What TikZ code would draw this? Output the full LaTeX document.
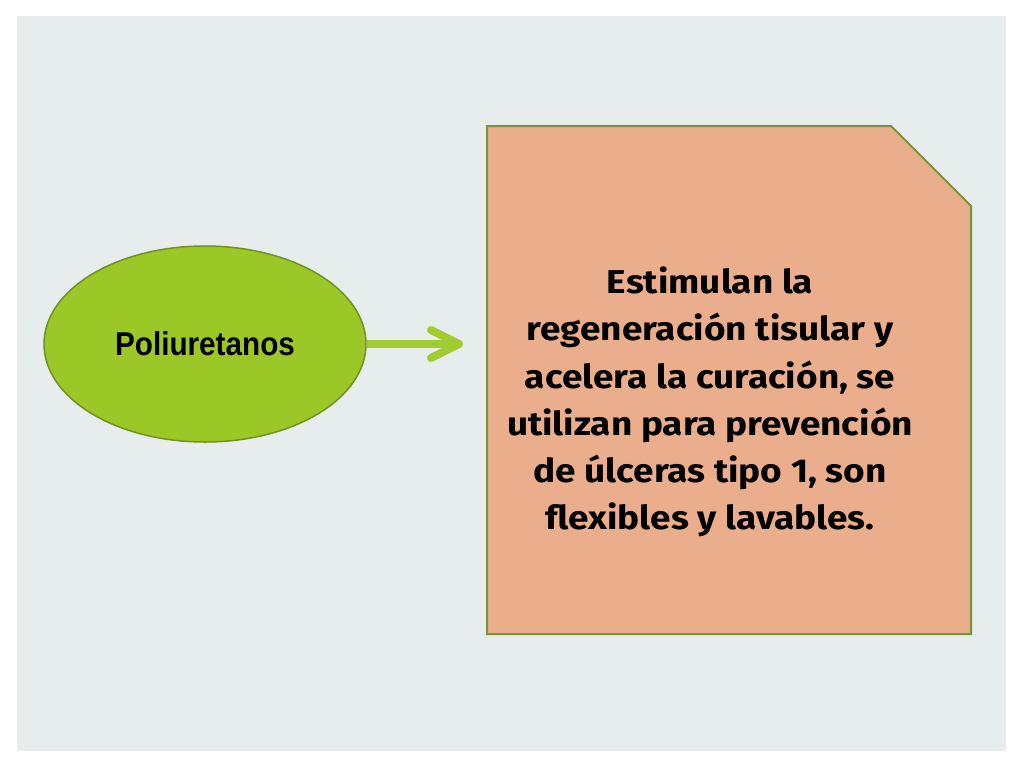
\documentclass[tikz,border=0pt]{standalone}
\usepackage{fontspec}
\setmainfont{Liberation Sans}
\newfontfamily\elipsefont{Liberation Sans}[FakeStretch=0.9]
\newfontfamily\cajafont{Fira Sans}[FakeStretch=1.12]
\usetikzlibrary{shapes.geometric,arrows.meta}
\definecolor{fondo}{RGB}{231,236,236}
\definecolor{verde}{RGB}{155,200,38}
\definecolor{verdeoscuro}{RGB}{112,146,32}
\definecolor{salmon}{RGB}{235,174,140}
\definecolor{bordecaja}{RGB}{119,147,60}
\begin{document}
\begin{tikzpicture}[x=1pt,y=-1pt]
\tikzstyle{elipse}=[ellipse, minimum width=322pt, minimum height=196pt, inner sep=0pt, fill=verde, draw=verdeoscuro, line width=1.5pt]
\tikzstyle{caja}=[fill=salmon, draw=bordecaja, line width=2pt]
\tikzstyle{connect}=[-{Straight Barb[length=28pt, width=28pt, line cap=round, line join=round]}, line width=8pt, draw=verde!95!white]

  \useasboundingbox (0,0) rectangle (1024,768);
  \fill[fondo] (17,16) rectangle (1006,751);

    % la caja con la esquina cortada
  \draw[caja] (487,126) -- (891,126) -- (971,206) -- (971,634) -- (487,634) -- cycle;
  \coordinate (efecto) at (487,344);

    % nodos
  \node[elipse] (poli) at (205,344) {};
  \node[font=\elipsefont\fontsize{33}{36}\selectfont\bfseries] (poli_txt) at (poli.center) {Poliuretanos};
  \node[font=\cajafont\fontsize{33}{47.3}\selectfont\bfseries, align=center] (efecto_txt) at (710,402)
    {Estimulan la\\ regeneración tisular y\\ acelera la curación, se\\ utilizan para prevención\\ de úlceras tipo 1, son\\ flexibles y lavables.};

    % flecha
  \path (poli) edge [connect, shorten >=24pt] (efecto);

\end{tikzpicture}
\end{document}
